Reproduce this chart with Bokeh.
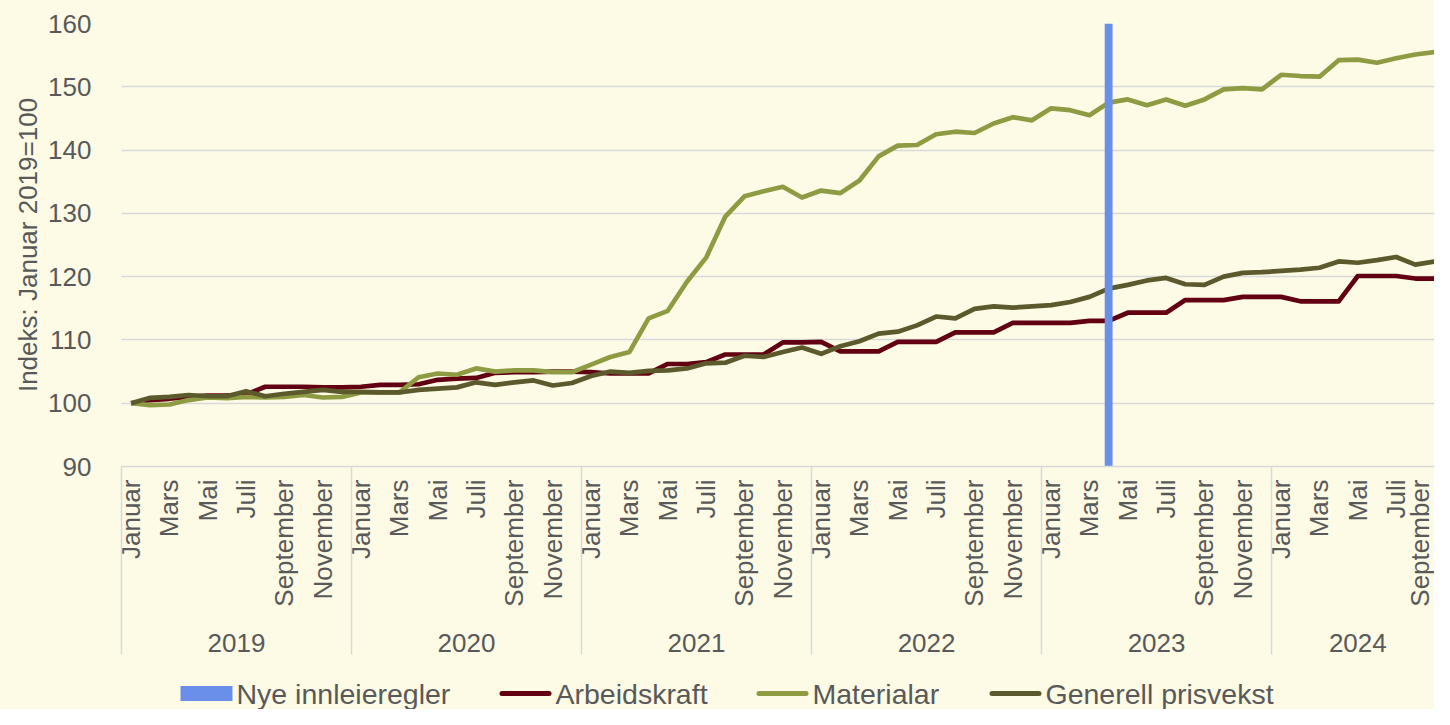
import math
from bokeh.plotting import figure
from bokeh.layouts import column
from bokeh.models import Range1d, LinearAxis, FixedTicker, ColumnDataSource
from bokeh.core.properties import value
from bokeh.embed import file_html
from bokeh.resources import INLINE

# ---------------- data ----------------
years = ["2019", "2020", "2021", "2022", "2023", "2024"]
month_names = ["Januar", "Februar", "Mars", "April", "Mai", "Juni", "Juli",
               "August", "September", "Oktober", "November", "Desember"]
months_in_last_year = 9  # data ends September 2024

arbeidskraft = [
    100.0, 100.5, 100.7, 101.0, 101.2, 101.2, 101.4, 102.6, 102.6, 102.6, 102.5, 102.5,
    102.6, 102.9, 102.9, 103.0, 103.7, 103.9, 104.0, 104.8, 104.9, 104.9, 105.0, 105.0,
    104.9, 104.7, 104.7, 104.7, 106.2, 106.2, 106.5, 107.7, 107.7, 107.7, 109.6, 109.6,
    109.7, 108.2, 108.2, 108.2, 109.7, 109.7, 109.7, 111.2, 111.2, 111.2, 112.7, 112.7,
    112.7, 112.7, 113.0, 113.0, 114.3, 114.3, 114.3, 116.3, 116.3, 116.3, 116.8, 116.8,
    116.8, 116.1, 116.1, 116.1, 120.1, 120.1, 120.1, 119.7, 119.7,
]
materialar = [
    100.0, 99.7, 99.8, 100.5, 100.9, 100.8, 101.0, 100.9, 101.0, 101.3, 100.9, 101.0,
    101.7, 101.7, 101.7, 104.1, 104.7, 104.5, 105.5, 105.0, 105.2, 105.2, 104.9, 104.9,
    106.1, 107.3, 108.1, 113.4, 114.6, 119.2, 123.0, 129.5, 132.7, 133.5, 134.2, 132.5,
    133.6, 133.2, 135.2, 139.0, 140.7, 140.8, 142.5, 142.9, 142.7, 144.2, 145.2, 144.7,
    146.6, 146.3, 145.5, 147.5, 148.0, 147.1, 148.0, 147.0, 148.0, 149.6, 149.8, 149.6,
    151.9, 151.7, 151.6, 154.2, 154.3, 153.8, 154.5, 155.1, 155.5,
]
generell_prisvekst = [
    100.0, 100.85, 101.0, 101.3, 101.1, 101.1, 101.9, 101.1, 101.5, 101.8, 102.1, 101.8,
    101.8, 101.7, 101.7, 102.1, 102.3, 102.5, 103.3, 102.9, 103.3, 103.6, 102.8, 103.2,
    104.3, 105.0, 104.8, 105.1, 105.2, 105.5, 106.3, 106.4, 107.5, 107.3, 108.1, 108.8,
    107.8, 109.0, 109.8, 111.0, 111.3, 112.3, 113.7, 113.4, 114.9, 115.3, 115.1, 115.3,
    115.5, 116.0, 116.8, 118.1, 118.7, 119.4, 119.8, 118.8, 118.7, 120.0, 120.6, 120.7,
    120.9, 121.1, 121.4, 122.4, 122.2, 122.6, 123.1, 121.9, 122.4,
]
# "Nye innleieregler" column: one bar in April 2023 reaching the top of the axis
innleie_year = "2023"
innleie_month = "April"
innleie_value = 160

series_names = ["Nye innleieregler", "Arbeidskraft", "Materialar", "Generell prisvekst"]
y_ticks = [90, 100, 110, 120, 130, 140, 150, 160]

# ---------------- derived positions ----------------
periods = []
for yi, yr in enumerate(years):
    n = 12 if yi < len(years) - 1 else months_in_last_year
    for m in month_names[:n]:
        periods.append((yr, m))
xs = list(range(len(periods)))

month_ticks = [i for i, (yr, m) in enumerate(periods) if month_names.index(m) % 2 == 0]
month_overrides = {i: periods[i][1] for i in month_ticks}

year_bounds = []
year_centers = []
year_overrides = {}
for yr in years:
    idx = [i for i, (y, m) in enumerate(periods) if y == yr]
    year_bounds.append(idx[0] - 0.5)
    c = (idx[0] + idx[-1]) / 2
    year_centers.append(c)
    year_overrides[c] = yr

innleie_x = periods.index((innleie_year, innleie_month))

# ---------------- styling ----------------
BG = "#FDFBE6"
TXT = "#595959"
GRID = "#D9D9D9"
BLUE = "#6A8FEB"
C_A = "#620012"
C_M = "#8F9B42"
C_G = "#5C5A2D"
FONT = "Liberation Sans"
FS = "26px"
W = 1434
H_MAIN = 677
H_LEG = 32
LEFT = 121

p = figure(width=W, height=H_MAIN, x_range=Range1d(-0.5, 68.0), y_range=Range1d(90, 160),
           output_backend="svg", toolbar_location=None, x_axis_type=None,
           min_border_left=LEFT, min_border_top=23, min_border_right=0, min_border_bottom=211)
p.background_fill_color = BG
p.border_fill_color = BG
p.outline_line_color = None

# y axis
p.yaxis.ticker = FixedTicker(ticks=y_ticks)
p.yaxis.axis_line_color = None
p.yaxis.major_tick_line_color = None
p.yaxis.minor_tick_line_color = None
p.yaxis.major_label_text_font = FONT
p.yaxis.major_label_text_font_size = FS
p.yaxis.major_label_text_color = TXT
p.yaxis.major_label_standoff = 24
p.yaxis.axis_label = "Indeks: Januar 2019=100"
p.yaxis.axis_label_text_font = FONT
p.yaxis.axis_label_text_font_size = FS
p.yaxis.axis_label_text_font_style = "normal"
p.yaxis.axis_label_text_color = TXT
p.yaxis.axis_label_standoff = 2
p.ygrid.grid_line_color = GRID
p.ygrid.grid_line_width = 1.5

# month axis
ax_m = LinearAxis(ticker=FixedTicker(ticks=month_ticks, minor_ticks=[]),
                  major_label_overrides=month_overrides)
ax_m.major_label_orientation = math.pi / 2
ax_m.major_label_text_font = FONT
ax_m.major_label_text_font_size = FS
ax_m.major_label_text_color = TXT
ax_m.major_label_standoff = 13
ax_m.major_tick_line_color = None
ax_m.major_tick_in = 0
ax_m.major_tick_out = 0
ax_m.minor_tick_line_color = None
ax_m.axis_line_color = GRID
ax_m.axis_line_width = 1.5
p.add_layout(ax_m, "below")

# year axis
ax_y = LinearAxis(ticker=FixedTicker(ticks=year_centers, minor_ticks=[]),
                  major_label_overrides=year_overrides)
ax_y.major_label_text_font = FONT
ax_y.major_label_text_font_size = FS
ax_y.major_label_text_color = TXT
ax_y.major_label_standoff = 24
ax_y.major_tick_line_color = None
ax_y.major_tick_in = 0
ax_y.major_tick_out = 0
ax_y.minor_tick_line_color = None
ax_y.axis_line_color = None
p.add_layout(ax_y, "below")

# year separators: minor ticks pointing up from below the year labels
ax_s = LinearAxis(ticker=FixedTicker(ticks=[], minor_ticks=year_bounds))
ax_s.major_label_text_font_size = "0px"
ax_s.major_label_standoff = 0
ax_s.major_tick_line_color = None
ax_s.major_tick_in = 0
ax_s.major_tick_out = 0
ax_s.minor_tick_line_color = GRID
ax_s.minor_tick_line_width = 1.5
ax_s.minor_tick_in = 188
ax_s.minor_tick_out = 0
ax_s.axis_line_color = None
p.add_layout(ax_s, "below")

# series
src = ColumnDataSource(dict(x=xs, a=arbeidskraft, m=materialar, g=generell_prisvekst))
p.line("x", "a", source=src, line_color=C_A, line_width=4.7, line_join="round")
p.line("x", "m", source=src, line_color=C_M, line_width=4.7, line_join="round")
p.line("x", "g", source=src, line_color=C_G, line_width=4.7, line_join="round")
p.vbar(x=[innleie_x], top=[innleie_value], bottom=90, width=0.41,
       fill_color=BLUE, line_color=None)

# ---------------- legend strip (separate figure under the chart) ----------------
leg = figure(width=W, height=H_LEG, x_range=Range1d(LEFT, W), y_range=Range1d(0, H_LEG),
             output_backend="svg", toolbar_location=None, x_axis_type=None, y_axis_type=None,
             min_border_left=LEFT, min_border_right=0, min_border_top=0, min_border_bottom=0)
leg.background_fill_color = BG
leg.border_fill_color = BG
leg.outline_line_color = None
leg.xgrid.visible = False
leg.ygrid.visible = False

key_left = [180, 499, 756, 989]     # canvas px of each legend key
key_w = 52
text_gap = 56                        # key start -> text start
mid = H_LEG / 2

leg.rect(x=[key_left[0] + key_w / 2], y=[mid], width=key_w, height=15,
         fill_color=BLUE, line_color=None)
leg.segment(x0=[k + 2.5 for k in key_left[1:]], y0=[mid] * 3,
            x1=[k + key_w - 2.5 for k in key_left[1:]], y1=[mid] * 3,
            line_color=[C_A, C_M, C_G], line_width=5, line_cap="round")
leg.text(x=[k + text_gap for k in key_left], y=[mid] * 4, text=series_names,
         text_font=value(FONT), text_font_size="28.5px", text_color=TXT,
         text_baseline="middle", text_align="left")

layout = column(p, leg, spacing=0)
layout.styles = {"background-color": BG}

open("out.html", "w").write(file_html(layout, INLINE))
